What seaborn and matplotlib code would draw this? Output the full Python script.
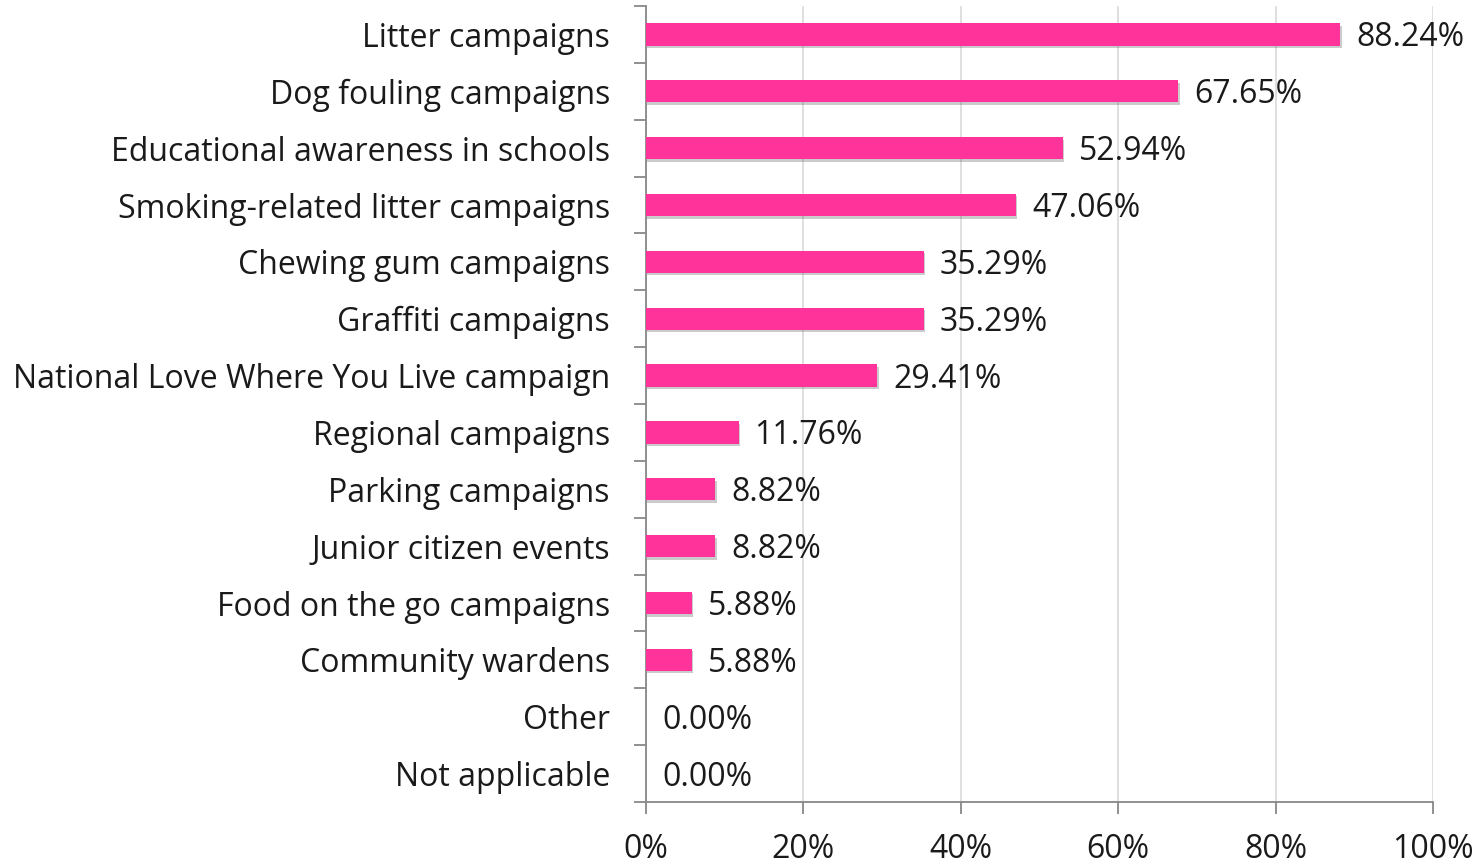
import matplotlib
matplotlib.use("Agg")
import matplotlib.pyplot as plt
import matplotlib.patheffects as pe
import seaborn as sns
import pandas as pd

# -----------------------------
# Data
# -----------------------------
categories = [
    "Litter campaigns",
    "Dog fouling campaigns",
    "Educational awareness in schools",
    "Smoking-related litter campaigns",
    "Chewing gum campaigns",
    "Graffiti campaigns",
    "National Love Where You Live campaign",
    "Regional campaigns",
    "Parking campaigns",
    "Junior citizen events",
    "Food on the go campaigns",
    "Community wardens",
    "Other",
    "Not applicable",
]
values = [88.24, 67.65, 52.94, 47.06, 35.29, 35.29, 29.41,
          11.76, 8.82, 8.82, 5.88, 5.88, 0.00, 0.00]
x_ticks = [0, 20, 40, 60, 80, 100]

df = pd.DataFrame({"category": categories, "value": values})

# -----------------------------
# Style
# -----------------------------
sns.set_style("white")
plt.rcParams["font.family"] = ["Open Sans", "DejaVu Sans"]

fig = plt.figure(figsize=(14.78, 8.66), dpi=100)
ax = fig.add_axes([646 / 1478, 1 - 802 / 866, (1433 - 646) / 1478, (802 - 6) / 866])

sns.barplot(data=df, x="value", y="category", color="#FF3399",
            saturation=1, width=0.39, linewidth=0, ax=ax, zorder=3)

for bar in ax.patches:
    if bar.get_width() > 0:
        bar.set_path_effects([pe.withSimplePatchShadow(offset=(0.8, -1.8),
                                                       shadow_rgbFace="#555555",
                                                       alpha=0.3)])
    else:
        bar.set_visible(False)

ax.set_xlim(0, 100)
ax.set_ylim(len(categories) - 0.5, -0.5)
ax.set_xticks(x_ticks)
ax.set_xticklabels([f"{t}%" for t in x_ticks])
ax.xaxis.grid(True, color="#D9D9D9", linewidth=1.2, zorder=0)
ax.set_axisbelow(True)
ax.set_xlabel("")
ax.set_ylabel("")

# category tick marks sit between bars
ax.set_yticks(range(len(categories)))
ax.set_yticklabels(categories)
ax.set_yticks([i - 0.5 for i in range(len(categories) + 1)], minor=True)
ax.tick_params(axis="y", which="major", left=False, length=0, pad=26,
               labelsize=23, labelcolor="#1a1a1a")
ax.tick_params(axis="y", which="minor", left=True, length=8.5, width=1.3,
               color="#888888", direction="out")
ax.tick_params(axis="x", which="major", bottom=True, length=8.5, width=1.3,
               color="#888888", direction="out", pad=14, labelsize=23, labelcolor="#1a1a1a")

for side in ["top", "right"]:
    ax.spines[side].set_visible(False)
for side in ["left", "bottom"]:
    ax.spines[side].set_color("#888888")
    ax.spines[side].set_linewidth(1.3)

for i, v in enumerate(values):
    ax.annotate(f"{v:.2f}%", xy=(v, i), xytext=(11.5, -2.5), textcoords="offset points",
                va="center", ha="left", fontsize=23, color="#1a1a1a")

fig.savefig("out.png", dpi=100)
